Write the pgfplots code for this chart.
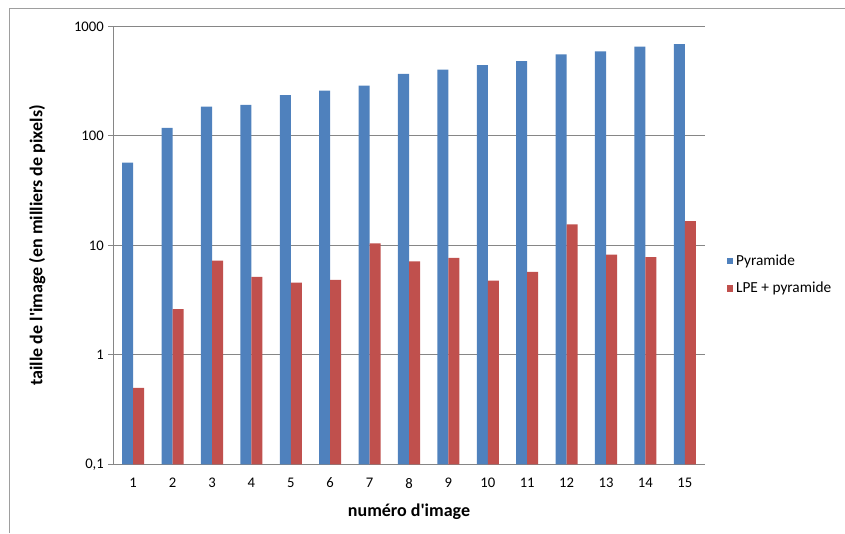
\documentclass[border=0pt]{standalone}
\usepackage{fontspec}
\setmainfont{Carlito}
\usepackage{pgfplots}
\pgfplotsset{compat=1.18}
\definecolor{xlblue}{HTML}{4F81BD}
\definecolor{xlred}{HTML}{C0504D}
\definecolor{xlgrid}{HTML}{868686}
\begin{document}
\begin{tikzpicture}
\useasboundingbox (0pt,0pt) rectangle (633.75pt,399.75pt);
\draw[xlgrid!80, line width=0.75pt] (6.75pt,0pt)--(6.75pt,393pt)--(633.75pt,393pt);
\begin{axis}[
 at={(85.125pt,51.525pt)}, anchor=south west,
 scale only axis, width=443.25pt, height=328.5pt,
 ymode=log, log origin=infty,
 ymin=0.1, ymax=1000,
 xmin=0.5, xmax=15.5,
 ybar=0pt, bar width=0.28,
 axis x line=bottom, axis y line=left,
 axis line style={xlgrid, -, line width=0.75pt},
 ymajorgrids, grid style={xlgrid, line width=0.75pt},
 xtick={1,...,15}, xtick style={draw=none},
 minor xtick={0.5,1.5,...,15.5},
 minor x tick style={xlgrid, line width=0.75pt},
 minor tick length=3.75pt,
 ytick={0.1,1,10,100,1000}, yticklabels={{0,1},1,10,100,1000},
 yminorticks=false,
 ytick style={xlgrid, line width=0.75pt},
 major tick length=3.75pt, tick align=outside,
 /pgf/number format/assume math mode=true,
 ticklabel style={font=\fontsize{11}{13}\selectfont, text=black},
 xticklabel style={yshift=-3pt},
 xlabel={numéro d\textquotesingle image},
 ylabel={taille de l\textquotesingle image (en milliers de pixels)},
 label style={font=\fontsize{13.5}{15}\selectfont\bfseries},
 xlabel style={at={(axis description cs:0.5,-0.109)}, anchor=center},
 ylabel style={at={(axis description cs:-0.129,0.5)}, anchor=center},
 legend style={draw=none, at={(1.03,0.433)}, anchor=west, font=\fontsize{11.5}{13}\selectfont, row sep=7pt},
 legend cell align=left,
 legend image code/.code={\fill[#1] (0pt,-2.6pt) rectangle (5.2pt,2.6pt);},
]
\addplot[fill=xlblue, draw=none] coordinates {
(1,57) (2,118) (3,185) (4,192) (5,235) (6,259) (7,288) (8,368)
(9,403) (10,441) (11,480) (12,553) (13,589) (14,654) (15,686)};
\addplot[fill=xlred, draw=none] coordinates {
(1,0.50) (2,2.62) (3,7.25) (4,5.14) (5,4.56) (6,4.83) (7,10.4) (8,7.14)
(9,7.67) (10,4.76) (11,5.72) (12,15.5) (13,8.22) (14,7.79) (15,16.6)};
\legend{Pyramide, LPE + pyramide}
\end{axis}
\end{tikzpicture}
\end{document}
